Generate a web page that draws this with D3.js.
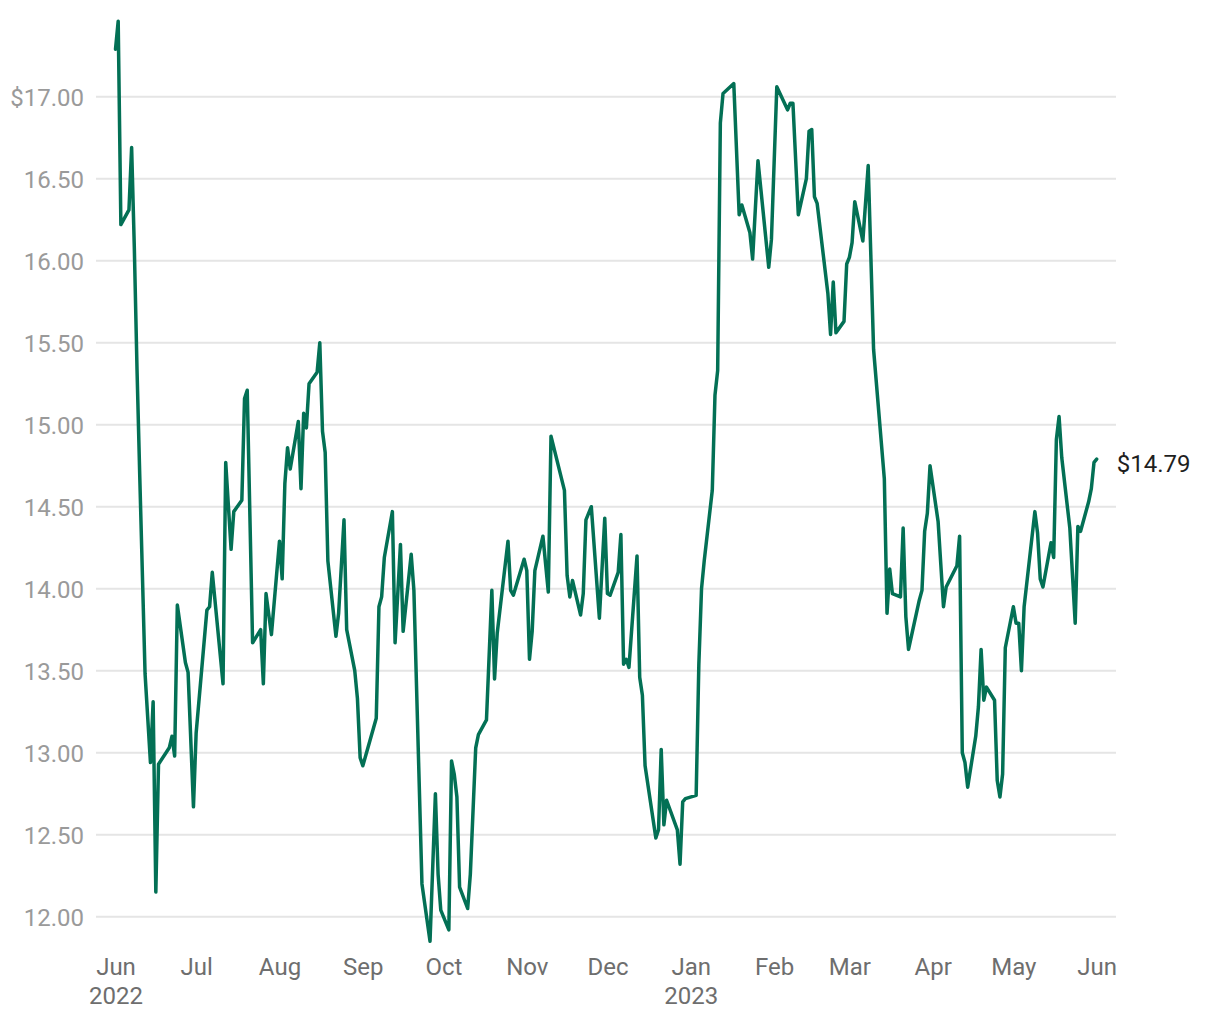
<!DOCTYPE html>
<html>
<head>
<meta charset="utf-8">
<script src="https://cdn.jsdelivr.net/npm/d3@7"></script>
<style>
  html, body { margin: 0; padding: 0; background: #ffffff; }
  svg { display: block; font-family: Roboto, "Noto Sans", sans-serif; }
</style>
</head>
<body>
<svg id="chart" width="1220" height="1020"></svg>
<script>
const dates = [
  "2022-06-01","2022-06-02","2022-06-03","2022-06-06","2022-06-07","2022-06-08","2022-06-09","2022-06-10","2022-06-12","2022-06-14",
  "2022-06-15","2022-06-16","2022-06-17","2022-06-21","2022-06-22","2022-06-23","2022-06-24","2022-06-27","2022-06-28","2022-06-30",
  "2022-07-01","2022-07-05","2022-07-06","2022-07-07","2022-07-11","2022-07-12","2022-07-14","2022-07-15","2022-07-18","2022-07-19",
  "2022-07-20","2022-07-22","2022-07-25","2022-07-26","2022-07-27","2022-07-29","2022-08-01","2022-08-02","2022-08-03","2022-08-04",
  "2022-08-05","2022-08-08","2022-08-09","2022-08-10","2022-08-11","2022-08-12","2022-08-15","2022-08-16","2022-08-17","2022-08-18",
  "2022-08-19","2022-08-22","2022-08-23","2022-08-25","2022-08-26","2022-08-29","2022-08-30","2022-08-31","2022-09-01","2022-09-06",
  "2022-09-07","2022-09-08","2022-09-09","2022-09-12","2022-09-13","2022-09-15","2022-09-16","2022-09-19","2022-09-20","2022-09-23",
  "2022-09-26","2022-09-28","2022-09-29","2022-09-30","2022-10-03","2022-10-04","2022-10-05","2022-10-06","2022-10-07","2022-10-10",
  "2022-10-11","2022-10-13","2022-10-14","2022-10-17","2022-10-19","2022-10-20","2022-10-21","2022-10-25","2022-10-26","2022-10-27",
  "2022-10-31","2022-11-01","2022-11-02","2022-11-03","2022-11-04","2022-11-07","2022-11-09","2022-11-10","2022-11-15","2022-11-16",
  "2022-11-17","2022-11-18","2022-11-21","2022-11-22","2022-11-23","2022-11-25","2022-11-28","2022-11-30","2022-12-01","2022-12-02",
  "2022-12-05","2022-12-06","2022-12-07","2022-12-08","2022-12-09","2022-12-12","2022-12-13","2022-12-14","2022-12-15","2022-12-19",
  "2022-12-20","2022-12-21","2022-12-22","2022-12-23","2022-12-27","2022-12-28","2022-12-29","2022-12-30","2023-01-03","2023-01-04",
  "2023-01-05","2023-01-06","2023-01-09","2023-01-10","2023-01-11","2023-01-12","2023-01-13","2023-01-17","2023-01-19","2023-01-20",
  "2023-01-23","2023-01-24","2023-01-26","2023-01-30","2023-01-31","2023-02-02","2023-02-06","2023-02-07","2023-02-08","2023-02-10",
  "2023-02-13","2023-02-14","2023-02-15","2023-02-16","2023-02-17","2023-02-21","2023-02-22","2023-02-23","2023-02-24","2023-02-27",
  "2023-02-28","2023-03-01","2023-03-02","2023-03-03","2023-03-06","2023-03-08","2023-03-10","2023-03-14","2023-03-15","2023-03-16",
  "2023-03-17","2023-03-20","2023-03-21","2023-03-22","2023-03-23","2023-03-27","2023-03-28","2023-03-29","2023-03-30","2023-03-31",
  "2023-04-03","2023-04-05","2023-04-06","2023-04-10","2023-04-11","2023-04-12","2023-04-13","2023-04-14","2023-04-17","2023-04-18",
  "2023-04-19","2023-04-20","2023-04-21","2023-04-24","2023-04-25","2023-04-26","2023-04-27","2023-04-28","2023-05-01","2023-05-02",
  "2023-05-03","2023-05-04","2023-05-05","2023-05-09","2023-05-10","2023-05-11","2023-05-12","2023-05-15","2023-05-16","2023-05-17",
  "2023-05-18","2023-05-19","2023-05-22","2023-05-24","2023-05-25","2023-05-26","2023-05-29","2023-05-30","2023-05-31","2023-06-01"
];
const prices = [
  17.29,17.46,16.22,16.31,16.69,16.08,15.34,14.70,13.48,12.94,
  13.31,12.15,12.93,13.03,13.10,12.98,13.90,13.55,13.49,12.67,
  13.12,13.87,13.89,14.10,13.42,14.77,14.24,14.47,14.54,15.16,
  15.21,13.67,13.75,13.42,13.97,13.72,14.29,14.06,14.64,14.86,
  14.73,15.02,14.61,15.07,14.98,15.25,15.32,15.50,14.96,14.83,
  14.17,13.71,13.85,14.42,13.75,13.50,13.33,12.97,12.92,13.21,
  13.89,13.95,14.19,14.47,13.67,14.27,13.74,14.21,13.99,12.20,
  11.85,12.75,12.26,12.04,11.92,12.95,12.87,12.73,12.18,12.05,
  12.26,13.03,13.11,13.20,13.99,13.45,13.73,14.29,13.99,13.96,
  14.18,14.11,13.57,13.74,14.11,14.32,13.98,14.93,14.60,14.08,
  13.95,14.05,13.84,13.97,14.42,14.50,13.82,14.43,13.97,13.96,
  14.10,14.33,13.54,13.57,13.52,14.20,13.46,13.35,12.92,12.48,
  12.53,13.02,12.56,12.71,12.53,12.32,12.70,12.72,12.74,13.54,
  14.00,14.17,14.60,15.18,15.33,16.84,17.02,17.08,16.28,16.34,
  16.17,16.01,16.61,15.96,16.13,17.06,16.92,16.96,16.96,16.28,
  16.50,16.79,16.80,16.39,16.35,15.80,15.55,15.87,15.56,15.63,
  15.98,16.02,16.11,16.36,16.12,16.58,15.46,14.67,13.85,14.12,
  13.97,13.95,14.37,13.83,13.63,13.93,13.99,14.35,14.46,14.75,
  14.41,13.89,14.01,14.14,14.32,13.00,12.94,12.79,13.10,13.28,
  13.63,13.32,13.40,13.32,12.83,12.73,12.87,13.64,13.89,13.79,
  13.79,13.50,13.89,14.47,14.34,14.06,14.01,14.28,14.19,14.91,
  15.05,14.80,14.37,13.79,14.38,14.35,14.53,14.61,14.77,14.79
];
const yTicks = [12.0, 12.5, 13.0, 13.5, 14.0, 14.5, 15.0, 15.5, 16.0, 16.5, 17.0];
const xDomain = ["2022-06-01", "2023-06-01"];
const lastLabel = "$14.79";

const parse = d3.utcParse("%Y-%m-%d");
const data = dates.map((d, i) => ({ date: parse(d), value: prices[i] }));

const svg = d3.select("#chart");
const x = d3.scaleUtc().domain(xDomain.map(parse)).range([115.5, 1096.7]);
const y = d3.scaleLinear().domain([12, 17]).range([916.7, 96.7]);
const gridLeft = 96, gridRight = 1116;
const FS = 24;

// gridlines
svg.append("g").selectAll("line").data(yTicks).join("line")
  .attr("x1", gridLeft).attr("x2", gridRight)
  .attr("y1", d => y(d)).attr("y2", d => y(d))
  .attr("stroke", "#e5e5e5").attr("stroke-width", 2);

// y axis labels
const fmt = d3.format(".2f");
const yAxis = d3.axisLeft(y).tickValues(yTicks).tickSize(0).tickPadding(0)
  .tickFormat(d => (d === 17 ? "$" : "") + fmt(d));
const gy = svg.append("g").attr("transform", "translate(84,0)").call(yAxis);
gy.select(".domain").remove();
gy.selectAll("text").attr("font-family", "Roboto, sans-serif").attr("font-size", FS)
  .attr("fill", "#9a9a9a").attr("dy", "0.35em").attr("x", 0);

// x axis labels
const monthFmt = d3.utcFormat("%b");
const xAxis = d3.axisBottom(x).ticks(d3.utcMonth.every(1)).tickSize(0).tickPadding(0)
  .tickFormat(d => monthFmt(d));
const gx = svg.append("g").call(xAxis);
gx.select(".domain").remove();
gx.selectAll("text").attr("font-family", "Roboto, sans-serif").attr("font-size", FS)
  .attr("fill", "#6e6e6e").attr("y", 975).attr("dy", 0);
gx.selectAll(".tick").each(function(d) {
  if (d.getUTCMonth() === 0 || +d === +x.domain()[0]) {
    const t = d3.select(this).select("text");
    t.text(null);
    t.append("tspan").attr("x", 0).attr("y", 975).text(monthFmt(d));
    t.append("tspan").attr("x", 0).attr("y", 1004).text(d3.utcFormat("%Y")(d));
  }
});

// line
const line = d3.line().x(d => x(d.date)).y(d => y(d.value));
svg.append("path").datum(data)
  .attr("d", line).attr("fill", "none")
  .attr("stroke", "#037055").attr("stroke-width", 3.5)
  .attr("stroke-linejoin", "round").attr("stroke-linecap", "round");

// last value label
const last = data[data.length - 1];
svg.append("text")
  .attr("x", x(last.date) + 20).attr("y", y(last.value) + 4)
  .attr("dy", "0.35em")
  .attr("font-family", "Roboto, sans-serif").attr("font-size", FS)
  .attr("fill", "#1f1f1f")
  .text(lastLabel);
</script>
</body>
</html>
